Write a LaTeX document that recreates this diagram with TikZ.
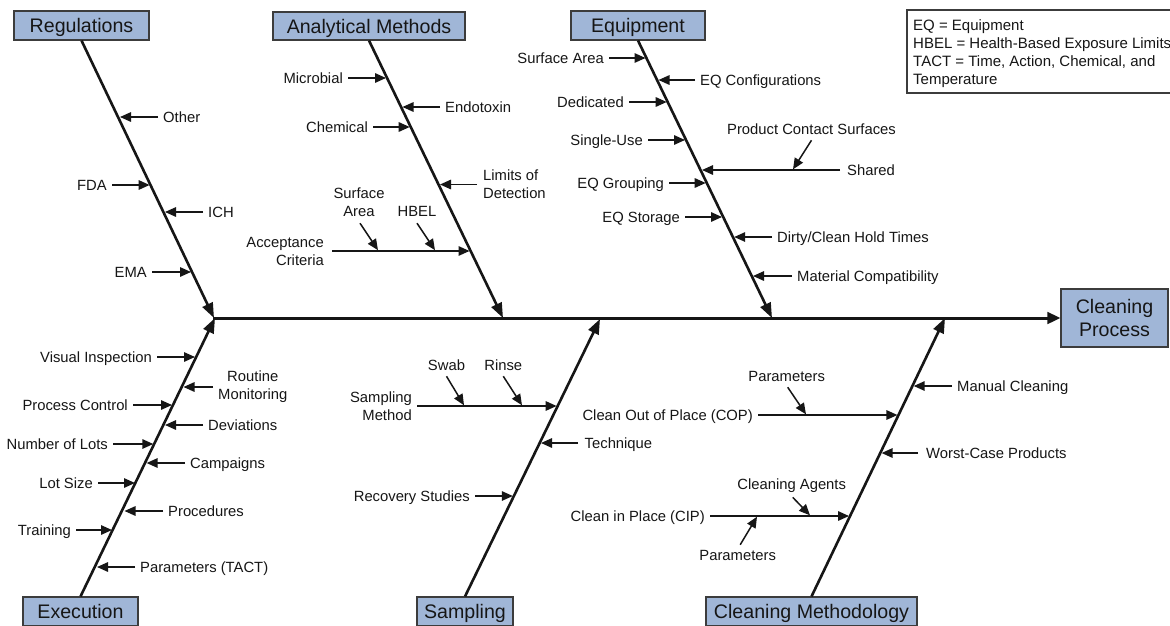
\documentclass[tikz,border=0pt]{standalone}
\usepackage{fontspec}
\setmainfont{Liberation Sans}
\usetikzlibrary{arrows.meta}

\definecolor{boxblue}{RGB}{160,182,215}
\definecolor{ink}{RGB}{22,22,22}
\definecolor{frame}{RGB}{60,60,60}

\tikzset{
  lbl/.style={font=\fontsize{14.8}{17}\selectfont, text=ink, text height=10.6pt,
    text depth=0pt, inner xsep=5pt, inner ysep=0pt},
  lbltwo/.style={font=\fontsize{14.8}{18}\selectfont, text=ink, inner xsep=5pt, inner ysep=0pt},
  hdrbase/.style={draw=frame, fill=boxblue, line width=1.1pt,
    font=\fontsize{19.6}{22.5}\selectfont, text=ink, inner sep=0pt},
  hdr/.style={hdrbase, minimum height=29pt, text height=14pt, text depth=0pt},
  legendtxt/.style={font=\fontsize{15}{18}\selectfont, text=ink, align=left, inner sep=0pt},
  bone/.style={draw=ink, line width=2.6pt, -{Triangle[length=15pt,width=11pt]}},
  spine/.style={draw=ink, line width=3pt, -{Triangle[length=13pt,width=11.5pt]}},
  twig/.style={draw=ink, line width=1.5pt, -{Triangle[length=11pt,width=9.5pt]}},
}

\begin{document}
\begin{tikzpicture}[x=1pt,y=-1pt]
\useasboundingbox (0,0) rectangle (1170,625);
\clip (0,0) rectangle (1170,625);
\fill[white] (0,0) rectangle (1170,625);

% ---------- category boxes and effect box ----------
\node[hdr, minimum width=135pt] (reg) at (81.5,25.5) {Regulations};
\node[hdr, minimum width=192pt, minimum height=28pt] (ana) at (369,26) {Analytical Methods};
\node[hdr, minimum width=134pt] (equ) at (638,25.5) {Equipment};
\node[hdr, minimum width=115pt] (exe) at (80.5,611.5) {Execution};
\node[hdr, minimum width=96pt] (sam) at (465,611.5) {Sampling};
\node[hdr, minimum width=211pt] (cme) at (811.5,611.5) {Cleaning Methodology};
\node[hdrbase, minimum width=107pt, minimum height=58pt, align=center] (cpr) at (1114.5,318) {Cleaning\\Process};

% ---------- spine and main bones ----------
\coordinate (s0) at (213,318);
\coordinate (j-reg) at (214,318);
\coordinate (j-ana) at (503,318);
\coordinate (j-equ) at (772,318);
\coordinate (j-exe) at (215,318);
\coordinate (j-sam) at (600,319);
\coordinate (j-cme) at (945,318);

\draw[spine] (s0) -- (cpr.west);
\draw[bone] (reg.south) -- (j-reg);
\draw[bone] (ana.south) -- (j-ana);
\draw[bone] (equ.south) -- (j-equ);
\draw[bone] (exe.north) -- (j-exe);
\draw[bone] (sam.north) -- (j-sam);
\draw[bone] (cme.north) -- (j-cme);

% ---------- Regulations ----------
\node[lbl, anchor=west] (r-oth) at (158,117) {Other};
\coordinate (r-oth-t) at (120,117);
\draw[twig] (r-oth) -- (r-oth-t);
\node[lbl, anchor=east] (r-fda) at (112,185) {FDA};
\coordinate (r-fda-t) at (149.6,185);
\draw[twig] (r-fda) -- (r-fda-t);
\node[lbl, anchor=west] (r-ich) at (203,212) {ICH};
\coordinate (r-ich-t) at (165,212);
\draw[twig] (r-ich) -- (r-ich-t);
\node[lbl, anchor=east] (r-ema) at (152,272) {EMA};
\coordinate (r-ema-t) at (191,272);
\draw[twig] (r-ema) -- (r-ema-t);

% ---------- Analytical Methods ----------
\node[lbl, anchor=east] (a-mic) at (348,78) {Microbial};
\coordinate (a-mic-t) at (386,78);
\draw[twig] (a-mic) -- (a-mic-t);
\node[lbl, anchor=west] (a-end) at (440,107) {Endotoxin};
\coordinate (a-end-t) at (402.5,107);
\draw[twig] (a-end) -- (a-end-t);
\node[lbl, anchor=east] (a-che) at (373,127) {Chemical};
\coordinate (a-che-t) at (409.7,127);
\draw[twig] (a-che) -- (a-che-t);
\node[lbltwo, align=left, anchor=west, inner xsep=6pt] (a-lim) at (477,184.5) {Limits of\\Detection};
\coordinate (a-lim-t) at (440,184.5);
\draw[twig] (a-lim) -- (a-lim-t);
\node[lbltwo, align=right, anchor=east, inner xsep=8pt] (a-acc) at (332,251) {Acceptance\\Criteria};
\coordinate (a-acc-t) at (469.5,251);
\draw[twig] (a-acc) -- (a-acc-t);
\node[lbltwo, align=center] (a-sa) at (359,202) {Surface\\Area};
\coordinate (a-sa-t) at (378,250.2);
\draw[twig] ([xshift=1pt,yshift=-6.6pt]a-sa.south) -- (a-sa-t);
\node[lbl] (a-hb) at (417,211) {HBEL};
\coordinate (a-hb-t) at (435,250.2);
\draw[twig] ([yshift=-6.7pt]a-hb.south) -- (a-hb-t);

% ---------- Equipment ----------
\node[lbl, anchor=east] (e-sa) at (609,58) {Surface Area};
\coordinate (e-sa-t) at (645.5,58);
\draw[twig] (e-sa) -- (e-sa-t);
\node[lbl, anchor=west] (e-cfg) at (695,80) {EQ Configurations};
\coordinate (e-cfg-t) at (658.5,80);
\draw[twig] (e-cfg) -- (e-cfg-t);
\node[lbl, anchor=east] (e-ded) at (629,102) {Dedicated};
\coordinate (e-ded-t) at (666.7,102);
\draw[twig] (e-ded) -- (e-ded-t);
\node[lbl, anchor=east] (e-su) at (648,140) {Single-Use};
\coordinate (e-su-t) at (685,140);
\draw[twig] (e-su) -- (e-su-t);
\node[lbl, anchor=west, inner xsep=7pt] (e-sh) at (840,170) {Shared};
\coordinate (e-sh-t) at (702,170);
\draw[twig] (e-sh) -- (e-sh-t);
\node[lbl] (e-pcs) at (811.5,129) {Product Contact Surfaces};
\coordinate (e-pcs-t) at (793,169.3);
\draw[twig] ([yshift=-5.75pt]e-pcs.south) -- (e-pcs-t);
\node[lbl, anchor=east] (e-grp) at (669,183) {EQ Grouping};
\coordinate (e-grp-t) at (705.7,183);
\draw[twig] (e-grp) -- (e-grp-t);
\node[lbl, anchor=east] (e-sto) at (685,217) {EQ Storage};
\coordinate (e-sto-t) at (722,217);
\draw[twig] (e-sto) -- (e-sto-t);
\node[lbl, anchor=west] (e-hold) at (772,237) {Dirty/Clean Hold Times};
\coordinate (e-hold-t) at (734.2,237);
\draw[twig] (e-hold) -- (e-hold-t);
\node[lbl, anchor=west] (e-mat) at (792,276) {Material Compatibility};
\coordinate (e-mat-t) at (753,276);
\draw[twig] (e-mat) -- (e-mat-t);

% ---------- Execution ----------
\node[lbl, anchor=east] (x-vis) at (157,357) {Visual Inspection};
\coordinate (x-vis-t) at (195,357);
\draw[twig] (x-vis) -- (x-vis-t);
\node[lbltwo, align=center, anchor=west] (x-rou) at (213,387) {Routine\\Monitoring};
\coordinate (x-rou-t) at (183.5,387);
\draw[twig] (x-rou) -- (x-rou-t);
\node[lbl, anchor=east] (x-pc) at (133,405) {Process Control};
\coordinate (x-pc-t) at (172,405);
\draw[twig] (x-pc) -- (x-pc-t);
\node[lbl, anchor=west] (x-dev) at (203,425) {Deviations};
\coordinate (x-dev-t) at (165,425);
\draw[twig] (x-dev) -- (x-dev-t);
\node[lbl, anchor=east] (x-nol) at (113,444) {Number of Lots};
\coordinate (x-nol-t) at (153.3,444);
\draw[twig] (x-nol) -- (x-nol-t);
\node[lbl, anchor=west] (x-cam) at (185,463) {Campaigns};
\coordinate (x-cam-t) at (146.6,463);
\draw[twig] (x-cam) -- (x-cam-t);
\node[lbl, anchor=east] (x-lot) at (98,483) {Lot Size};
\coordinate (x-lot-t) at (135,483);
\draw[twig] (x-lot) -- (x-lot-t);
\node[lbl, anchor=west] (x-pro) at (163,511) {Procedures};
\coordinate (x-pro-t) at (124.5,511);
\draw[twig] (x-pro) -- (x-pro-t);
\node[lbl, anchor=east] (x-tra) at (76,530) {Training};
\coordinate (x-tra-t) at (112,530);
\draw[twig] (x-tra) -- (x-tra-t);
\node[lbl, anchor=west] (x-par) at (135,567) {Parameters (TACT)};
\coordinate (x-par-t) at (97,567);
\draw[twig] (x-par) -- (x-par-t);

% ---------- Sampling ----------
\node[lbltwo, align=right, anchor=east] (p-met) at (417,406) {Sampling\\Method};
\coordinate (p-met-t) at (556.6,406);
\draw[twig] (p-met) -- (p-met-t);
\node[lbl] (p-swab) at (446.5,365) {Swab};
\coordinate (p-swab-t) at (464,405.3);
\draw[twig] ([yshift=-5.75pt]p-swab.south) -- (p-swab-t);
\node[lbl] (p-rin) at (503.3,365) {Rinse};
\coordinate (p-rin-t) at (522,405.3);
\draw[twig] ([yshift=-5.75pt]p-rin.south) -- (p-rin-t);
\node[lbl, anchor=west, inner xsep=6.5pt] (p-tec) at (578,443) {Technique};
\coordinate (p-tec-t) at (541,443);
\draw[twig] (p-tec) -- (p-tec-t);
\node[lbl, anchor=east] (p-rec) at (475,496) {Recovery Studies};
\coordinate (p-rec-t) at (512.8,496);
\draw[twig] (p-rec) -- (p-rec-t);

% ---------- Cleaning Methodology ----------
\node[lbl, anchor=west] (c-man) at (952,386) {Manual Cleaning};
\coordinate (c-man-t) at (913.7,386);
\draw[twig] (c-man) -- (c-man-t);
\node[lbl, anchor=east] (c-cop) at (758,415) {Clean Out of Place (COP)};
\coordinate (c-cop-t) at (897.4,415);
\draw[twig] (c-cop) -- (c-cop-t);
\node[lbl] (c-par1) at (786.7,376) {Parameters};
\coordinate (c-par1-t) at (806,414.3);
\draw[twig] ([xshift=1pt,yshift=-5.75pt]c-par1.south) -- (c-par1-t);
\node[lbl, anchor=west, inner xsep=8pt] (c-wor) at (918,453) {Worst-Case Products};
\coordinate (c-wor-t) at (881.6,453);
\draw[twig] (c-wor) -- (c-wor-t);
\node[lbl] (c-agt) at (791.7,484.3) {Cleaning Agents};
\coordinate (c-agt-t) at (810,515.3);
\draw[twig] ([xshift=1pt,yshift=-7.5pt]c-agt.south) -- (c-agt-t);
\node[lbl, anchor=east] (c-cip) at (710,516) {Clean in Place (CIP)};
\coordinate (c-cip-t) at (849,516);
\draw[twig] (c-cip) -- (c-cip-t);
\node[lbl] (c-par2) at (737.7,555) {Parameters};
\coordinate (c-par2-t) at (757,516.7);
\draw[twig] ([xshift=2.5pt,yshift=4.75pt]c-par2.north) -- (c-par2-t);

% ---------- abbreviations ----------
\node[legendtxt, anchor=north west] (leg) at (913,19.7)
  {EQ = Equipment\\HBEL = Health-Based Exposure Limits\\TACT = Time, Action, Chemical, and\\Temperature};
\draw[draw=frame, line width=1.1pt] ([xshift=-6pt,yshift=9.7pt]leg.north west) rectangle ++(268,83);
\end{tikzpicture}
\end{document}
